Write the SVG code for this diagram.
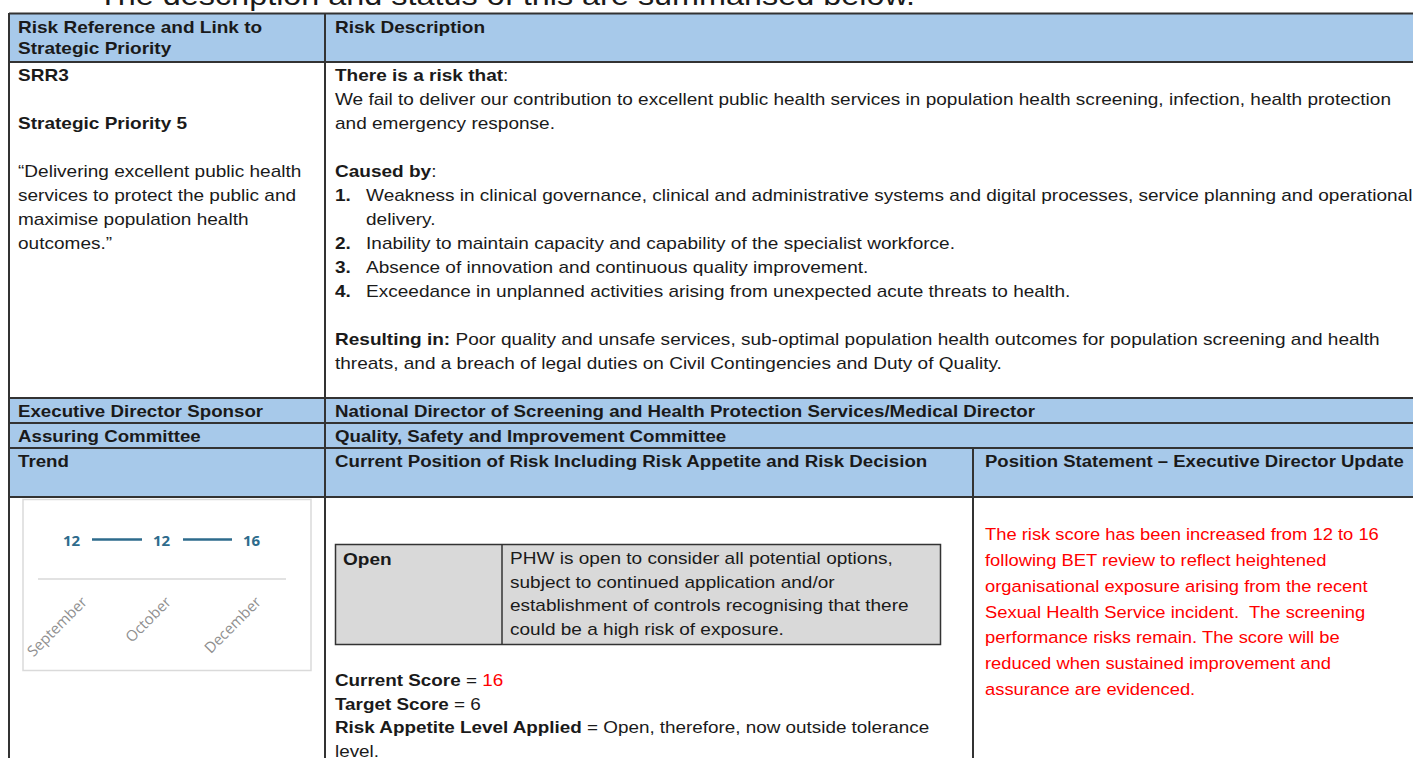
<svg xmlns="http://www.w3.org/2000/svg" width="1413" height="758" viewBox="0 0 1413 758">
<style>
text{font-family:"Liberation Sans",Arial,sans-serif;font-size:17px;fill:#1a1a1a}
.b{font-weight:bold}
.r{fill:#ff0000}
.hdr{fill:#a7c9ea}
.grid line{stroke:#333;stroke-width:2}
.num{font-family:"Open Sans","Liberation Sans",sans-serif;font-size:15px;font-weight:bold;fill:#2e6b8c}
.month{font-family:"Open Sans","Liberation Sans",sans-serif;font-size:15px;fill:#8f8f8f}
</style>
<rect x="0" y="0" width="1413" height="758" fill="#ffffff"/>
<text x="98" y="4.5" style="font-size:28px" textLength="817" lengthAdjust="spacingAndGlyphs">The description and status of this are summarised below.</text>

<g id="fills">
<rect class="hdr" x="9" y="13" width="1404" height="49"/>
<rect class="hdr" x="9" y="398" width="1404" height="99"/>
</g>

<g id="connectors" class="grid">
<line x1="9" y1="13.5" x2="1413" y2="13.5"/>
<line x1="9" y1="62" x2="1413" y2="62"/>
<line x1="9" y1="398" x2="1413" y2="398"/>
<line x1="9" y1="423" x2="1413" y2="423"/>
<line x1="9" y1="448" x2="1413" y2="448"/>
<line x1="9" y1="497" x2="1413" y2="497"/>
<line x1="9" y1="13" x2="9" y2="758"/>
<line x1="325" y1="13" x2="325" y2="758"/>
<line x1="973" y1="448" x2="973" y2="758"/>
</g>

<g id="header-ref" transform="translate(18,0) scale(1.12,1)">
<text class="b" x="0" y="33.5">Risk Reference and Link to</text>
<text class="b" x="0" y="54.5">Strategic Priority</text>
</g>
<g id="header-desc" transform="translate(335,0) scale(1.12,1)">
<text class="b" x="0" y="33.5">Risk Description</text>
</g>

<g id="cell-ref" transform="translate(18,0) scale(1.12,1)">
<text class="b" x="0" y="81.5">SRR3</text>
<text class="b" x="0" y="129.5">Strategic Priority 5</text>
<text x="0" y="177.5">“Delivering excellent public health</text>
<text x="0" y="201.5">services to protect the public and</text>
<text x="0" y="225.5">maximise population health</text>
<text x="0" y="249.5">outcomes.”</text>
</g>

<g id="cell-desc" transform="translate(335,0) scale(1.12,1)">
<text x="0" y="81.5"><tspan class="b">There is a risk that</tspan>:</text>
<text x="0" y="105.5">We fail to deliver our contribution to excellent public health services in population health screening, infection, health protection</text>
<text x="0" y="129.5">and emergency response.</text>
<text x="0" y="177.5"><tspan class="b">Caused by</tspan>:</text>
<text class="b" x="0" y="201.5">1.</text>
<text x="27.7" y="201.5">Weakness in clinical governance, clinical and administrative systems and digital processes, service planning and operational</text>
<text x="27.7" y="225.5">delivery.</text>
<text class="b" x="0" y="249.5">2.</text>
<text x="27.7" y="249.5">Inability to maintain capacity and capability of the specialist workforce.</text>
<text class="b" x="0" y="273.5">3.</text>
<text x="27.7" y="273.5">Absence of innovation and continuous quality improvement.</text>
<text class="b" x="0" y="297.5">4.</text>
<text x="27.7" y="297.5">Exceedance in unplanned activities arising from unexpected acute threats to health.</text>
<text x="0" y="345.5"><tspan class="b">Resulting in:</tspan> Poor quality and unsafe services, sub-optimal population health outcomes for population screening and health</text>
<text x="0" y="369.5">threats, and a breach of legal duties on Civil Contingencies and Duty of Quality.</text>
</g>

<g id="row-sponsor">
<text class="b" transform="translate(18,416.5) scale(1.1,1)">Executive Director Sponsor</text>
<text class="b" transform="translate(335,416.5) scale(1.1,1)">National Director of Screening and Health Protection Services/Medical Director</text>
</g>
<g id="row-committee">
<text class="b" transform="translate(18,441.5) scale(1.1,1)">Assuring Committee</text>
<text class="b" transform="translate(335,441.5) scale(1.1,1)">Quality, Safety and Improvement Committee</text>
</g>
<g id="row-trend-header">
<text class="b" transform="translate(18,466.5) scale(1.1,1)">Trend</text>
<text class="b" transform="translate(335,466.5) scale(1.1,1)">Current Position of Risk Including Risk Appetite and Risk Decision</text>
<text class="b" transform="translate(985,466.5) scale(1.09,1)">Position Statement – Executive Director Update</text>
</g>

<g id="trend-chart">
<rect x="23" y="499.5" width="288" height="171" fill="#ffffff" stroke="#dadada" stroke-width="1.5"/>
<text class="num" x="71.5" y="546" text-anchor="middle">12</text>
<text class="num" x="161.5" y="546" text-anchor="middle">12</text>
<text class="num" x="251.5" y="546" text-anchor="middle">16</text>
<line x1="92" y1="539.5" x2="142" y2="539.5" stroke="#2e6b8c" stroke-width="2.5"/>
<line x1="183" y1="539.5" x2="232" y2="539.5" stroke="#2e6b8c" stroke-width="2.5"/>
<line x1="38" y1="579" x2="286" y2="579" stroke="#d9d9d9" stroke-width="1.5"/>
<text class="month" text-anchor="end" transform="translate(88,603) rotate(-45)">September</text>
<text class="month" text-anchor="end" transform="translate(172,603) rotate(-45)">October</text>
<text class="month" text-anchor="end" transform="translate(262,603) rotate(-45)">December</text>
</g>

<g id="appetite-box">
<rect x="335.5" y="544.5" width="605" height="100" fill="#d9d9d9" stroke="#333" stroke-width="1.5"/>
<line x1="502" y1="544.5" x2="502" y2="644.5" stroke="#333" stroke-width="1.5"/>
<text class="b" transform="translate(343,564.5) scale(1.12,1)">Open</text>
<g transform="translate(510,0) scale(1.12,1)">
<text x="0" y="564">PHW is open to consider all potential options,</text>
<text x="0" y="587.7">subject to continued application and/or</text>
<text x="0" y="611.4">establishment of controls recognising that there</text>
<text x="0" y="635">could be a high risk of exposure.</text>
</g>
</g>

<g id="current-position" transform="translate(335,0) scale(1.11,1)">
<text x="0" y="686.5"><tspan class="b">Current Score</tspan> = <tspan class="r">16</tspan></text>
<text x="0" y="710"><tspan class="b">Target Score</tspan> = 6</text>
<text x="0" y="733.3"><tspan class="b">Risk Appetite Level Applied</tspan> = Open, therefore, now outside tolerance</text>
<text x="0" y="756.7">level.</text>
</g>

<g id="position-statement" transform="translate(985,0) scale(1.08,1)">
<text class="r" x="0" y="540.5">The risk score has been increased from 12 to 16</text>
<text class="r" x="0" y="566.2">following BET review to reflect heightened</text>
<text class="r" x="0" y="592">organisational exposure arising from the recent</text>
<text class="r" x="0" y="617.7" xml:space="preserve">Sexual Health Service incident.  The screening</text>
<text class="r" x="0" y="643.5">performance risks remain. The score will be</text>
<text class="r" x="0" y="669.2">reduced when sustained improvement and</text>
<text class="r" x="0" y="695">assurance are evidenced.</text>
</g>
</svg>
